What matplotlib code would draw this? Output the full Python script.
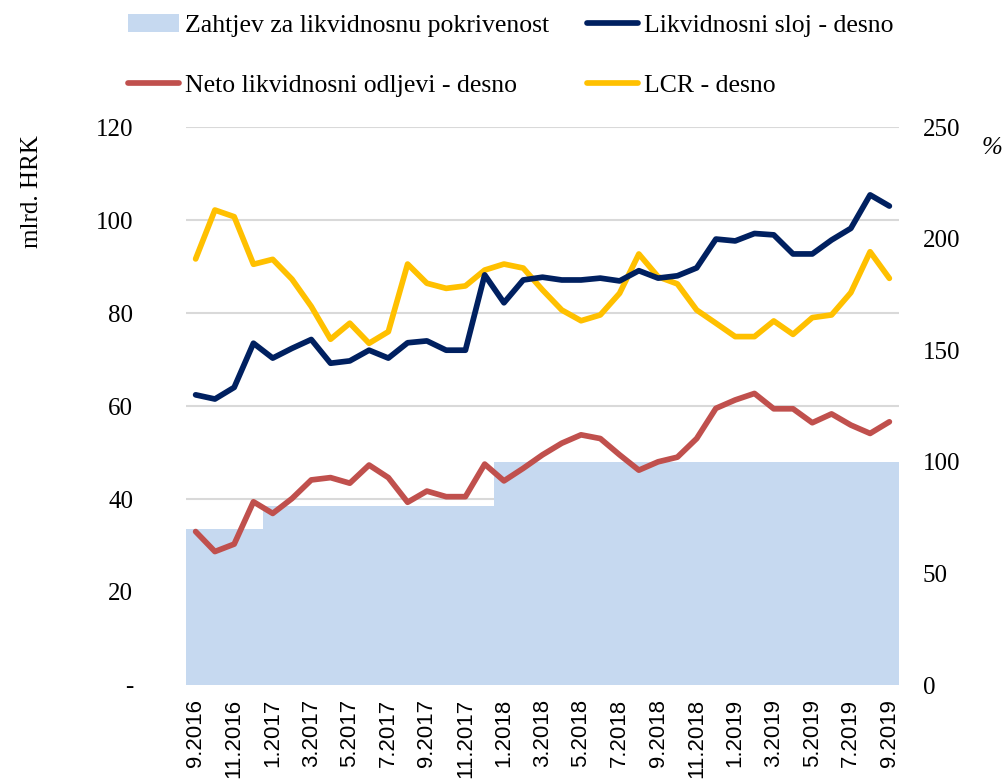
import matplotlib
matplotlib.use("Agg")
import matplotlib.pyplot as plt
import numpy as np

months = [f"{(8 + i) % 12 + 1}.{2016 + (8 + i) // 12}" for i in range(37)]

zahtjev = [70] * 4 + [80] * 12 + [100] * 21
likvidnosni_sloj = [62.4, 61.5, 64.0, 73.5, 70.3, 72.4, 74.3, 69.2, 69.7, 72.0,
                    70.3, 73.6, 74.0, 72.0, 72.0, 88.2, 82.2, 87.1, 87.7, 87.1,
                    87.1, 87.5, 86.9, 89.1, 87.5, 88.0, 89.7, 95.9, 95.5, 97.1,
                    96.8, 92.7, 92.7, 95.7, 98.2, 105.4, 103.0]
neto_odljevi = [33.0, 28.7, 30.3, 39.4, 36.9, 40.1, 44.1, 44.6, 43.4, 47.3,
                44.6, 39.3, 41.7, 40.5, 40.5, 47.5, 43.9, 46.6, 49.5, 52.0,
                53.8, 53.0, 49.5, 46.2, 48.0, 49.0, 53.0, 59.5, 61.3, 62.7,
                59.4, 59.4, 56.4, 58.3, 55.9, 54.1, 56.6]
lcr = [190.9, 212.8, 209.8, 188.5, 190.7, 181.8, 169.6, 154.9, 162.1, 153.1,
       158.3, 188.6, 180.0, 177.7, 178.8, 185.9, 188.6, 186.8, 177.0, 168.0,
       163.2, 165.8, 175.5, 193.1, 182.9, 179.7, 168.0, 162.1, 156.1, 156.1,
       163.1, 157.1, 164.6, 165.8, 175.8, 194.1, 182.2]

left_ticks = [0, 20, 40, 60, 80, 100, 120]
left_labels = ["-", "20", "40", "60", "80", "100", "120"]
right_ticks = [0, 50, 100, 150, 200, 250]

serif = "Liberation Serif"
sans = "Liberation Sans"
C_AREA = "#C6D9F0"
C_BLUE = "#002060"
C_RED = "#C0504D"
C_YEL = "#FFC000"
FS = 18
LW = 4.1

fig = plt.figure(figsize=(10.08, 7.81), dpi=100)
pos = [186 / 1008, 1 - 685 / 781, (899 - 186) / 1008, (685 - 127) / 781]
ax1 = fig.add_axes(pos)
ax2 = ax1.twinx()
ax3 = fig.add_axes(pos, sharex=ax1, sharey=ax1)

x = np.arange(len(months))

ax1.set_zorder(0)
ax2.set_zorder(1)
ax3.set_zorder(2)
ax2.patch.set_visible(False)
ax3.patch.set_visible(False)

# Grid on left axis
ax1.set_ylim(0, 120)
ax1.set_yticks(left_ticks)
ax1.set_yticklabels(left_labels, fontfamily=serif, fontsize=FS)
ax1.yaxis.grid(True, color="#D9D9D9", linewidth=1.5)
ax1.set_axisbelow(True)
ax1.tick_params(axis="y", length=0, pad=38)

# Right axis: area + LCR
b = ax2.bar(x, zahtjev, width=1.0, color=C_AREA, linewidth=0, label="Zahtjev za likvidnosnu pokrivenost")
l4, = ax2.plot(x, lcr, color=C_YEL, lw=LW, solid_capstyle="round", solid_joinstyle="round", label="LCR - desno")
ax2.set_ylim(0, 250)
ax2.set_yticks(right_ticks)
ax2.set_yticklabels([str(t) for t in right_ticks], fontfamily=serif, fontsize=FS)
ax2.tick_params(axis="y", length=0, pad=17)

# Left axis lines on top
l2, = ax3.plot(x, likvidnosni_sloj, color=C_BLUE, lw=LW, solid_capstyle="round", solid_joinstyle="round", label="Likvidnosni sloj - desno")
l3, = ax3.plot(x, neto_odljevi, color=C_RED, lw=LW, solid_capstyle="round", solid_joinstyle="round", label="Neto likvidnosni odljevi - desno")
ax3.axis("off")

ax1.set_xlim(-0.5, len(months) - 0.5)
ax1.set_xticks(x[::2])
ax1.set_xticklabels(months[::2], rotation=90, fontfamily=sans, fontsize=16, va="top")
ax1.tick_params(axis="x", length=0, pad=10)

for a in (ax1, ax2, ax3):
    for s in a.spines.values():
        s.set_visible(False)

fig.text(32 / 1008, 1 - 192 / 781, "mlrd. HRK", rotation=90, ha="center", va="center",
         fontfamily=serif, fontsize=FS)
fig.text(992 / 1008, 1 - 148 / 781, "%", ha="center", va="center",
         fontfamily=serif, fontsize=FS, style="italic")

leg_kw = dict(loc="upper left", frameon=False, prop={"family": serif, "size": 18.5},
              handlelength=2.0, handletextpad=0.2, labelspacing=1.45,
              borderpad=0, borderaxespad=0)
legA = fig.legend([b, l3], [b.get_label(), l3.get_label()],
                  bbox_to_anchor=(128 / 1008, 1 - 14 / 781), **leg_kw)
legB = fig.legend([l2, l4], [l2.get_label(), l4.get_label()],
                  bbox_to_anchor=(587 / 1008, 1 - 14 / 781), **leg_kw)

fig.savefig("out.png", dpi=100)
